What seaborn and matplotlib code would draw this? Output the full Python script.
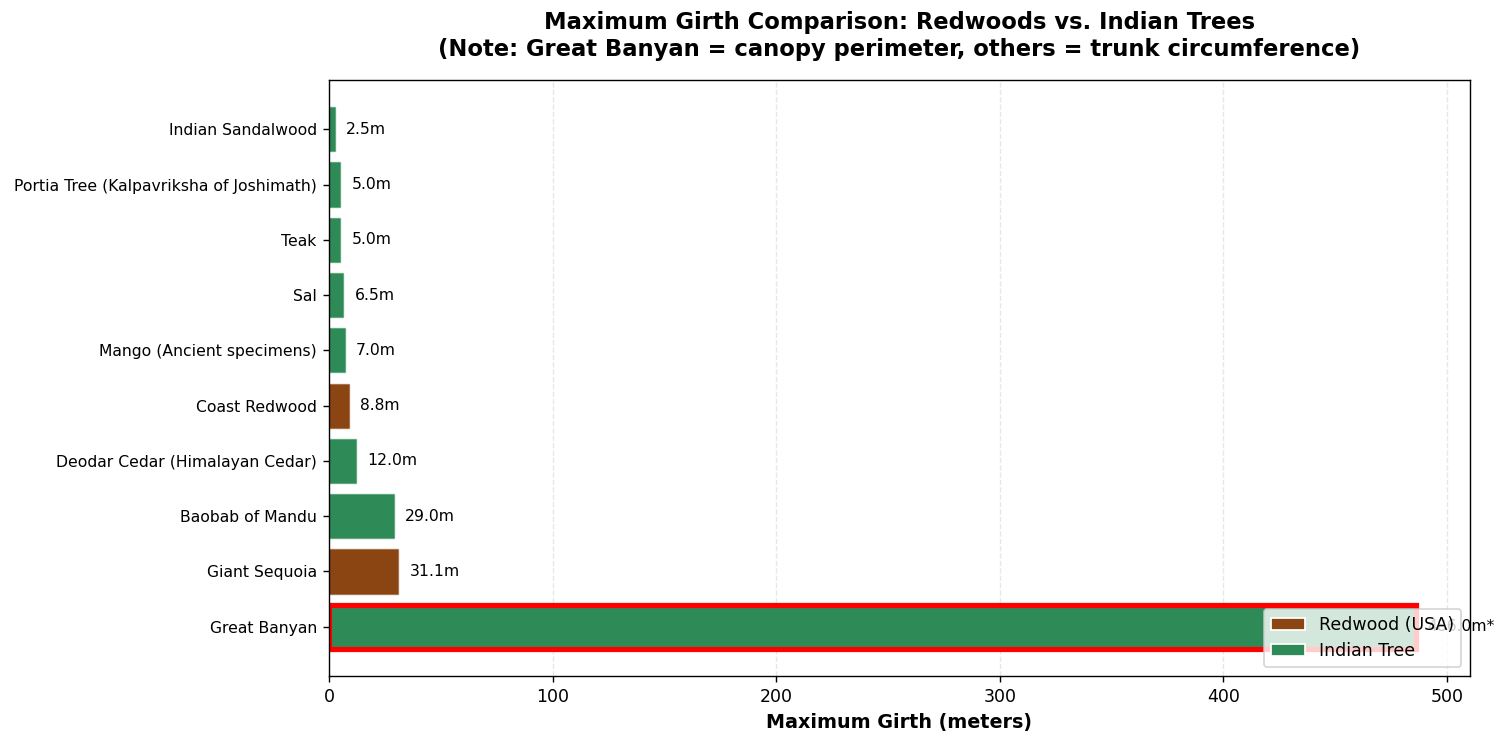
import numpy as np
import pandas as pd
import matplotlib
matplotlib.use("Agg")
import matplotlib.pyplot as plt
import seaborn as sns
from matplotlib.patches import Patch

# Data (top to bottom as shown)
treeNames = [
    "Indian Sandalwood",
    "Portia Tree (Kalpavriksha of Joshimath)",
    "Teak",
    "Sal",
    "Mango (Ancient specimens)",
    "Coast Redwood",
    "Deodar Cedar (Himalayan Cedar)",
    "Baobab of Mandu",
    "Giant Sequoia",
    "Great Banyan",
]
girthMeters = [2.5, 5.0, 5.0, 6.5, 7.0, 8.8, 12.0, 29.0, 31.1, 486.0]
treeTypes = [
    "Indian Tree", "Indian Tree", "Indian Tree", "Indian Tree", "Indian Tree",
    "Redwood (USA)", "Indian Tree", "Indian Tree", "Redwood (USA)", "Indian Tree",
]
typeOrder = ["Redwood (USA)", "Indian Tree"]
typeColors = {"Redwood (USA)": "#8B4513", "Indian Tree": "#2E8B57"}
highlightTree = "Great Banyan"

df = pd.DataFrame({"tree": treeNames, "girth": girthMeters, "type": treeTypes})

sns.set_style("ticks")
plt.rcParams['font.family'] = ['DejaVu Sans']
plt.rcParams['text.color'] = 'black'

fig = plt.figure(figsize=(12, 5.944), dpi=125)
ax = fig.add_axes([0.2193, 0.0902, 0.7607, 0.8021])

sns.barplot(data=df, y="tree", x="girth", hue="type", hue_order=typeOrder,
            palette=typeColors, order=treeNames, dodge=False, width=0.8,
            orient="h", saturation=1, legend=False, ax=ax)

# Thin translucent edges like the reference; red outline on the banyan bar
for patch in ax.patches:
    if patch.get_width() <= 0:
        continue
    fc = patch.get_facecolor()
    patch.set_edgecolor((fc[0], fc[1], fc[2], 0.5))
    patch.set_linewidth(0.8)
    yCenter = patch.get_y() + patch.get_height() / 2
    idx = int(round(yCenter))
    if 0 <= idx < len(treeNames) and treeNames[idx] == highlightTree:
        patch.set_edgecolor("red")
        patch.set_linewidth(3)

# Value labels
offset = 5
for i, (name, val) in enumerate(zip(treeNames, girthMeters)):
    label = f"{val:.1f}m" + ("*" if name == highlightTree else "")
    ax.text(val + offset, i, label, va="center", ha="left", fontsize=9, color="black")

ax.set_xlim(0, 510.3)
ax.set_ylim(len(treeNames) - 1 + 0.89, -0.89)
ax.set_xticks([0, 100, 200, 300, 400, 500])
ax.xaxis.grid(True, linestyle="--", alpha=0.3, color="#b0b0b0")
ax.set_axisbelow(True)
for side in ["top", "right", "left", "bottom"]:
    ax.spines[side].set_visible(True)
    ax.spines[side].set_color("black")
ax.tick_params(axis="x", labelsize=10, colors="black")
ax.tick_params(axis="y", labelsize=9, colors="black")

ax.set_xlabel("Maximum Girth (meters)", fontsize=11, fontweight="bold", color="black")
ax.set_ylabel("")
ax.set_title("Maximum Girth Comparison: Redwoods vs. Indian Trees\n"
             "(Note: Great Banyan = canopy perimeter, others = trunk circumference)",
             fontsize=13, fontweight="bold", pad=14, color="black")

handles = [Patch(facecolor=typeColors[t], label=t) for t in typeOrder]
leg = ax.legend(handles=handles, loc="lower right", fontsize=10)
for txt in leg.get_texts():
    txt.set_color("black")

fig.savefig("out.png", dpi=125)
